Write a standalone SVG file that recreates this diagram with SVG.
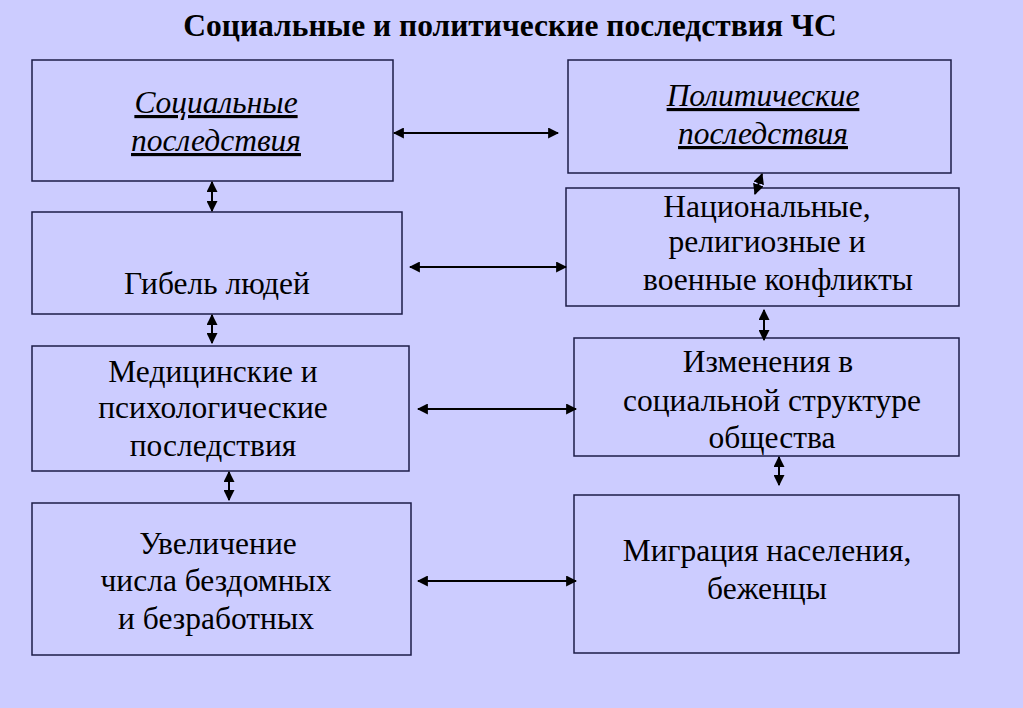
<svg xmlns="http://www.w3.org/2000/svg" width="1023" height="708" viewBox="0 0 1023 708">
<defs>
<style>
.bg{fill:#CCCCFF}
.box{fill:#CCCCFF;stroke:#1c1c48;stroke-width:1.5}
.t{font-family:"Liberation Serif","Times New Roman",serif;font-size:31.5px;fill:#000;text-anchor:middle}
.i{font-style:italic;text-decoration:underline}
.title{font-family:"Liberation Serif","Times New Roman",serif;font-size:31.5px;font-weight:bold;fill:#000;text-anchor:middle}
.c{stroke:#000;stroke-width:2;fill:none;marker-start:url(#a);marker-end:url(#a)}
</style>
<marker id="a" viewBox="0 0 10 10" refX="9" refY="5" markerWidth="5.5" markerHeight="5.5" orient="auto-start-reverse" markerUnits="strokeWidth">
<path d="M0,0 L10,5 L0,10 z" fill="#000"/>
</marker>
</defs>
<rect class="bg" x="0" y="0" width="1023" height="708"/>
<text class="title" x="510" y="36">Социальные и политические последствия ЧС</text>
<g id="n1"><rect class="box" x="32" y="60" width="361" height="121"/>
<text class="t i" x="216" y="113">Социальные</text><text class="t i" x="216" y="151">последствия</text></g>
<g id="n2"><rect class="box" x="568" y="60" width="383" height="113"/>
<text class="t i" x="763" y="106">Политические</text><text class="t i" x="763" y="144">последствия</text></g>
<g id="n3"><rect class="box" x="32" y="212" width="370" height="102"/>
<text class="t" x="217" y="294">Гибель людей</text></g>
<g id="n4"><rect class="box" x="566" y="188" width="393" height="118"/>
<text class="t" x="767" y="217">Национальные,</text><text class="t" x="767" y="252">религиозные и</text><text class="t" x="778" y="290">военные конфликты</text></g>
<g id="n5"><rect class="box" x="32" y="346" width="377" height="125"/>
<text class="t" x="213" y="382">Медицинские и</text><text class="t" x="213" y="418">психологические</text><text class="t" x="213" y="456">последствия</text></g>
<g id="n6"><rect class="box" x="574" y="338" width="385" height="118"/>
<text class="t" x="768" y="372">Изменения в</text><text class="t" x="772" y="411">социальной структуре</text><text class="t" x="772" y="448">общества</text></g>
<g id="n7"><rect class="box" x="32" y="503" width="379" height="152"/>
<text class="t" x="218" y="554">Увеличение</text><text class="t" x="216" y="591">числа бездомных</text><text class="t" x="216" y="629">и безработных</text></g>
<g id="n8"><rect class="box" x="574" y="495" width="385" height="158"/>
<text class="t" x="767" y="561">Миграция населения,</text><text class="t" x="767" y="599">беженцы</text></g>
<g id="connectors">
<line class="c" x1="394" y1="133" x2="558" y2="133"/>
<line class="c" x1="212" y1="182" x2="212" y2="211"/>
<line class="c" x1="762" y1="174" x2="755" y2="194"/>
<line class="c" x1="410" y1="267" x2="566" y2="267"/>
<line class="c" x1="212" y1="315" x2="212" y2="343"/>
<line class="c" x1="418" y1="409" x2="576" y2="409"/>
<line class="c" x1="764" y1="310" x2="764" y2="340"/>
<line class="c" x1="229" y1="472" x2="229" y2="500"/>
<line class="c" x1="779" y1="457" x2="779" y2="485"/>
<line class="c" x1="418" y1="581" x2="576" y2="581"/>
</g>
</svg>
